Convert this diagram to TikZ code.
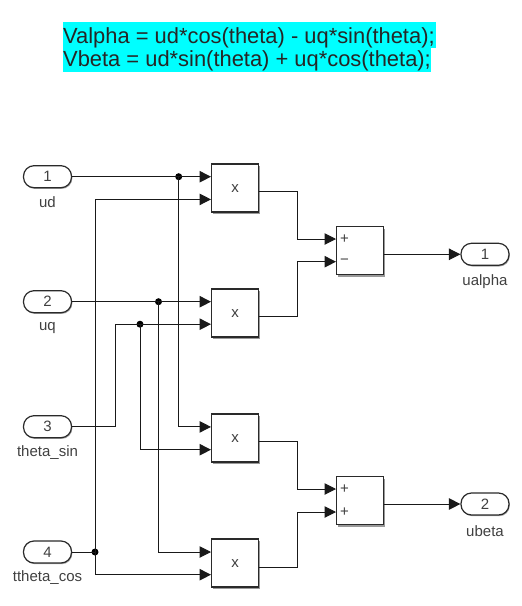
\documentclass[tikz,border=0pt]{standalone}
\usepackage{fontspec}
\setmainfont{Liberation Sans}
\usetikzlibrary{arrows.meta,shadows}
\definecolor{edge}{HTML}{2A2A2A}
\definecolor{lab}{HTML}{404040}
\definecolor{hl}{HTML}{00FFFF}
\newcommand{\mulsign}{\raisebox{-4.5pt}[0pt][0pt]{x}}
\tikzset{
  x=1pt,y=-1pt,
  wire/.style={draw=black!90,line width=1pt},
  arrowwire/.style={wire,-{Triangle[length=11.5pt,width=11.5pt]}},
  block/.style={draw=edge,line width=1.3pt,fill=white,minimum width=47.5pt,minimum height=48pt,inner sep=0pt,
    drop shadow={shadow xshift=1.4pt,shadow yshift=-2pt,fill=black,opacity=0.4},font=\fontsize{15}{17}\selectfont,text=lab},
  port/.style={draw=edge,line width=1.2pt,fill=white,rounded corners=10.5pt,minimum width=48pt,minimum height=22pt,inner sep=0pt,
    drop shadow={shadow xshift=0.8pt,shadow yshift=-1.2pt,fill=black,opacity=0.35},font=\fontsize{15}{17}\selectfont,text=lab},
  lbl/.style={font=\fontsize{15}{17}\selectfont,text=lab,inner sep=0pt},
  sign/.style={font=\fontsize{15}{17}\selectfont,text=lab,inner sep=0pt},
  junction/.style={circle,fill=black,inner sep=0pt,minimum size=7pt},
  codeline/.style={font=\fontsize{21.9}{26}\selectfont,text=black!85,inner sep=0pt,anchor=base west}
}
\begin{document}
\begin{tikzpicture}
\useasboundingbox (0,0) rectangle (522,606);
% code highlight
\fill[hl] (63,22) rectangle (435.5,47.5);
\fill[hl] (63,47.5) rectangle (430.5,72);
\node[codeline] (code1) at (63,43) {Valpha = ud*cos(theta) - uq*sin(theta);};
\node[codeline] (code2) at (63,66) {Vbeta = ud*sin(theta) + uq*cos(theta);};
% inports
\node[port] (p1) at (47.5,176.7) {1};
\node[port] (p2) at (47.5,301.7) {2};
\node[port] (p3) at (47.5,426.7) {3};
\node[port] (p4) at (47.5,552) {4};
\node[lbl] (l1) at (47.5,202.5) {ud};
\node[lbl] (l2) at (47.5,328) {uq};
\node[lbl] (l3) at (47.5,452.5) {theta\_sin};
\node[lbl] (l4) at (47.5,578) {ttheta\_cos};
% product blocks
\node[block] (m1) at (235,188) {\mulsign};
\node[block] (m2) at (235,313) {\mulsign};
\node[block] (m3) at (235,438) {\mulsign};
\node[block] (m4) at (235,563) {\mulsign};
% sum blocks
\node[block] (s1) at (360,250.5) {};
\node[block] (s2) at (360,500.5) {};
\node[sign] (s1a) at (344.5,239) {+};
\node[sign] (s1b) at (344.5,261.5) {\char"2212};
\node[sign] (s2a) at (344.5,489) {+};
\node[sign] (s2b) at (344.5,512) {+};
% outports
\node[port] (o1) at (485,254.3) {1};
\node[port] (o2) at (485,504) {2};
\node[lbl] (l5) at (485,281.5) {ualpha};
\node[lbl] (l6) at (485,531) {ubeta};
% junctions
\node[junction] (j1) at (178.7,176.7) {};
\node[junction] (j2) at (158.5,301.7) {};
\node[junction] (j3) at (140,324.2) {};
\node[junction] (j4) at (95,552) {};
% ports on blocks
\coordinate (a1) at (211,176.7);
\coordinate (a2) at (211,199.4);
\coordinate (b1) at (211,301.7);
\coordinate (b2) at (211,324.2);
\coordinate (c1) at (211,426.9);
\coordinate (c2) at (211,449.7);
\coordinate (d1) at (211,552);
\coordinate (d2) at (211,574.7);
\coordinate (e1) at (336,239);
\coordinate (e2) at (336,261.7);
\coordinate (f1) at (336,489);
\coordinate (f2) at (336,512);
% input wiring
\draw[wire] (p1.east) -- (j1.center);
\draw[arrowwire] (j1.center) -- (a1);
\draw[wire] (p2.east) -- (j2.center);
\draw[arrowwire] (j2.center) -- (b1);
\draw[wire] (p4.east) -- (j4.center);
\draw[arrowwire] (j4.center) |- (d2);
\draw[arrowwire] (j4.center) |- (a2);
\draw[arrowwire] (p3.east) -| (115,324.2) -- (b2);
\draw[arrowwire] (j1.center) |- (c1);
\draw[arrowwire] (j2.center) |- (d1);
\draw[arrowwire] (j3.center) |- (c2);
% block outputs
\draw[arrowwire] (m1.east |- 0,191.5) -| (297.3,239) -- (e1);
\draw[arrowwire] (m2.east |- 0,316.7) -| (297.3,261.7) -- (e2);
\draw[arrowwire] (m3.east |- 0,441.7) -| (297.3,489) -- (f1);
\draw[arrowwire] (m4.east |- 0,567) -| (297.3,512) -- (f2);
\draw[arrowwire] (s1.east |- o1) -- (o1.west);
\draw[arrowwire] (s2.east |- o2) -- (o2.west);
\end{tikzpicture}
\end{document}
